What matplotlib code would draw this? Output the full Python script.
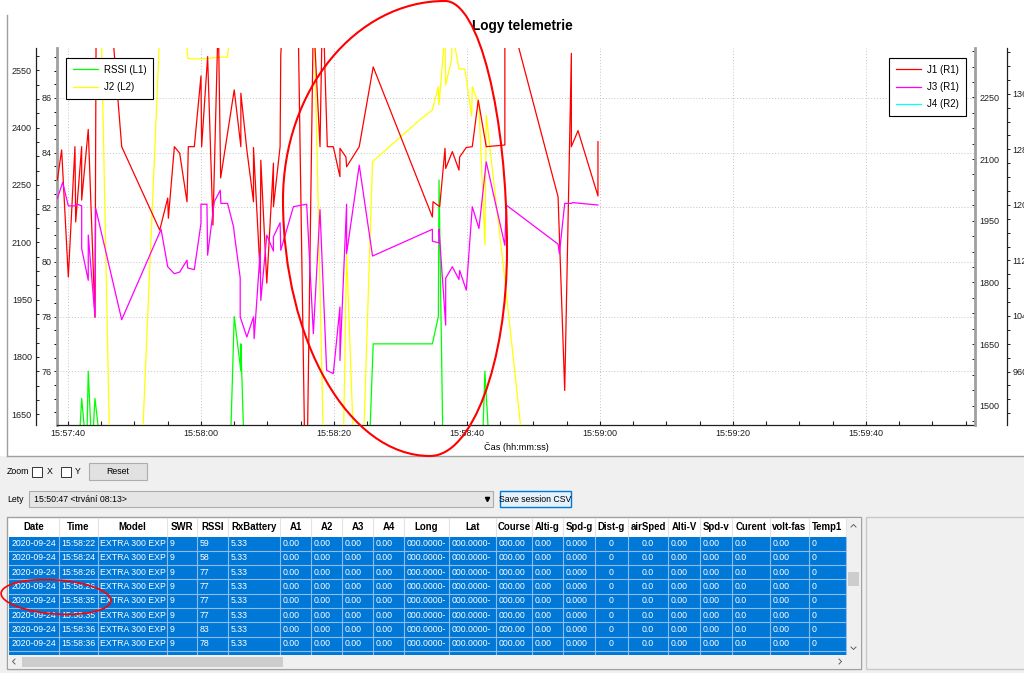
import matplotlib
matplotlib.use("Agg")
import matplotlib.pyplot as plt
from matplotlib.patches import Rectangle, Ellipse, PathPatch
from matplotlib.path import Path
from matplotlib.ticker import MultipleLocator, AutoMinorLocator, FuncFormatter

plt.rcParams['font.family'] = ['Liberation Sans', 'DejaVu Sans']

# time axis: seconds after 15:57:40
start_clock = 15 * 3600 + 57 * 60 + 40

# RSSI (L1)
rssi_time = [-2.0, 1.6, 2.06, 2.8, 3.05, 3.6, 4.06, 5.0, 24.4, 25.0,
             26.0, 26.0, 26.5, 45.3, 45.9, 54.8, 55.7, 55.8, 56.4, 62.3,
             62.7, 63.4, 80.0]
rssi_value = [73, 73, 75, 73, 76, 73, 75, 73, 73, 78,
              76, 77, 73, 73, 77, 77, 78, 83, 73, 73,
              76, 73, 73]

# J2 (L2)
j2_time = [-2.0, 5.0, 6.5, 11.0, 14.0, 17.5, 18.0, 19.0, 21.0, 22.9,
           24.0, 24.5, 37.0, 38.5, 41.4, 41.9, 43.0, 44.4, 45.8, 52.9,
           54.8, 55.7, 55.8, 56.7, 56.8, 57.7, 57.8, 58.8, 59.7, 60.7,
           60.8, 61.8, 62.7, 62.9, 65.7, 68.5, 80.0]
j2_value = [2700, 2670, 1360, 1500, 2731, 2700, 2581, 2579, 2581, 2584,
            2584, 2700, 2700, 1500, 1550, 2071, 1550, 1550, 2311, 2420,
            2446, 2507, 2459, 2650, 2511, 2579, 2650, 2553, 2553, 2430,
            2507, 2459, 2093, 2433, 2001, 1550, 1550]

# J1 (R1)
j1_time = [-1.6, -0.95, 0.05, 1.05, 1.16, 2.06, 2.06, 3.05, 4.06, 4.3,
           6.5, 8.08, 13.8, 15.0, 15.1, 16.0, 16.8, 17.9, 18.1, 19.0,
           20.0, 20.1, 21.0, 21.8, 22.6, 22.96, 25.0, 26.0, 26.0, 26.9,
           27.9, 27.9, 28.9, 29.0, 29.9, 30.9, 30.9, 31.9, 32.0, 32.5,
           34.6, 35.6, 36.0, 36.9, 37.9, 38.3, 39.0, 39.9, 40.9, 40.9,
           41.8, 41.9, 43.8, 45.9, 54.8, 54.9, 55.9, 56.7, 56.8, 57.8,
           58.8, 58.9, 59.9, 60.8, 61.7, 62.9, 65.7, 65.7, 66.5, 73.7,
           74.7, 75.7, 75.7, 76.7, 79.7, 79.7]
j1_value = [2049, 2122, 1813, 2130, 1947, 2130, 2000, 2172, 1715, 2700,
            2450, 2130, 1927, 2005, 1956, 2130, 2114, 1996, 2130, 2130,
            2302, 2130, 2349, 1939, 2450, 2054, 2268, 2130, 2260, 2122,
            1996, 2128, 1822, 2097, 1798, 2090, 1984, 2130, 2353, 2500,
            2450, 1400, 1400, 2450, 2130, 2500, 2130, 2130, 2057, 2126,
            2105, 2081, 2130, 2324, 1959, 1996, 1984, 2126, 2077, 2118,
            2073, 2105, 2128, 2130, 2243, 2130, 2134, 2500, 2450, 2008,
            1537, 2357, 2130, 2169, 2010, 2142]

# J3 (R1)
j3_time = [-1.6, -0.8, 0.05, 1.05, 1.4, 2.06, 2.06, 3.05, 3.05, 4.06,
           4.17, 8.08, 14.0, 15.0, 16.0, 16.8, 17.9, 18.0, 19.0, 20.0,
           20.0, 20.9, 21.0, 22.0, 22.9, 23.0, 24.0, 24.9, 25.0, 25.9,
           25.9, 26.9, 27.9, 28.0, 28.9, 29.0, 29.9, 30.9, 30.9, 31.9,
           32.0, 33.9, 35.9, 36.9, 37.9, 38.9, 39.9, 40.9, 40.9, 41.9,
           41.9, 43.8, 45.8, 54.8, 54.8, 55.8, 55.8, 56.8, 56.8, 57.8,
           58.8, 58.9, 59.9, 60.8, 61.8, 62.9, 65.7, 65.9, 73.7, 73.9,
           74.7, 75.7, 75.9, 79.7]
j3_value = [2004, 2043, 1986, 1986, 1990, 1986, 1882, 1805, 1915, 1716,
            1980, 1709, 1929, 1838, 1821, 1825, 1854, 1835, 1831, 1943,
            1990, 1990, 1866, 1996, 2024, 1992, 1992, 1935, 1920, 1811,
            1716, 1667, 1716, 1663, 1874, 1756, 1915, 1876, 1911, 1945,
            1878, 1984, 1990, 1675, 1977, 1586, 1578, 1740, 1610, 1990,
            1870, 2085, 1864, 1929, 1900, 1896, 1929, 1696, 1810, 1838,
            1807, 1829, 1781, 1984, 1931, 2093, 1890, 1988, 1893, 1870,
            1992, 1992, 1994, 1988]

# J4 (R2) - no visible data in range
j4_time = [-1.6, 79.7]
j4_value = [0, 0]

# table content
table_columns = ['Date', 'Time', 'Model', 'SWR', 'RSSI', 'RxBattery', 'A1', 'A2',
                 'A3', 'A4', 'Long', 'Lat', 'Course', 'Alti-g', 'Spd-g', 'Dist-g',
                 'airSped', 'Alti-V', 'Spd-v', 'Curent', 'volt-fas', 'Temp1']
row_time = ['15:58:22', '15:58:24', '15:58:26', '15:58:26', '15:58:35',
            '15:58:35', '15:58:36', '15:58:36', '15:58:37']
row_rssi = ['59', '58', '77', '77', '77', '77', '83', '78', '74']
row_date = '2020-09-24'
row_model = 'EXTRA 300 EXP'
row_swr = '9'
row_battery = '5.33'
sensor_cells = ['0.00', '0.00', '0.00', '0.00', '000.0000-', '000.0000-', '000.00',
                '0.00', '0.000', '0', '0.0', '0.00', '0.00', '0.0', '0.00', '0']

W, H = 1024, 673
fig = plt.figure(figsize=(W / 100, H / 100), dpi=100, facecolor='#f0f0f0')

# background "window" drawn in pixel coordinates
bg = fig.add_axes([0, 0, 1, 1], zorder=-1)
bg.set_xlim(0, W)
bg.set_ylim(H, 0)
bg.axis('off')

bg.add_patch(Rectangle((0, 0), W, 456, fc='white', ec='none'))
bg.plot([7, 7], [15, 456], color='#a0a0a0', lw=1)
bg.plot([7, W], [456, 456], color='#a0a0a0', lw=1)

ui_font = 6.3
bg.text(7, 472, 'Zoom', fontsize=ui_font, va='center')
bg.add_patch(Rectangle((32, 467), 10, 10, fc='white', ec='#333333', lw=0.7))
bg.text(46.5, 472, 'X', fontsize=ui_font, va='center')
bg.add_patch(Rectangle((61, 467), 10, 10, fc='white', ec='#333333', lw=0.7))
bg.text(74.5, 472, 'Y', fontsize=ui_font, va='center')
bg.add_patch(Rectangle((89, 462.5), 58, 17, fc='#e1e1e1', ec='#adadad', lw=0.8))
bg.text(118, 471, 'Reset', fontsize=ui_font, ha='center', va='center')

bg.text(7, 499, 'Lety', fontsize=ui_font, va='center')
bg.add_patch(Rectangle((29, 491), 464, 16, fc='#e5e5e5', ec='#adadad', lw=0.8))
bg.text(34, 499, '15:50:47 <trvání 08:13>', fontsize=ui_font, va='center')
bg.plot([487], [499], marker='v', ms=3, color='black')
bg.add_patch(Rectangle((500, 491), 71, 16, fc='#e5f1fb', ec='#0078d7', lw=1))
bg.text(535.5, 499, 'Save session CSV', fontsize=ui_font, ha='center', va='center')

# table widget
col_edges = [9, 59, 98, 167, 197, 228, 280, 311, 342, 373, 404, 449, 496,
             532, 563, 595, 628, 668, 700, 732, 770, 809, 846]
centered_cols = {'Dist-g', 'airSped'}
header_top, header_h, row_h = 518, 18.5, 14.33

bg.add_patch(Rectangle((7, 517), 854, 152, fc='white', ec='#a0a0a0', lw=1))
for j, name in enumerate(table_columns):
    cx = (col_edges[j] + col_edges[j + 1]) / 2
    bg.text(cx, header_top + header_h / 2, name, fontsize=6.9, fontweight='bold',
            ha='center', va='center')
    bg.plot([col_edges[j + 1]] * 2, [header_top, header_top + header_h],
            color='#e3e3e3', lw=0.8)

rows_top = header_top + header_h
for i, (tm, rs) in enumerate(zip(row_time, row_rssi)):
    cells = [row_date, tm, row_model, row_swr, rs, row_battery] + sensor_cells
    y0 = rows_top + i * row_h
    bg.add_patch(Rectangle((col_edges[0], y0), col_edges[-1] - col_edges[0], row_h,
                           fc='#0078d7', ec='none', zorder=1))
    for j, txt in enumerate(cells):
        if table_columns[j] in centered_cols:
            bg.text((col_edges[j] + col_edges[j + 1]) / 2, y0 + row_h / 2, txt,
                    fontsize=6.3, color='white', ha='center', va='center', zorder=2)
        else:
            bg.text(col_edges[j] + 2.5, y0 + row_h / 2, txt, fontsize=6.3,
                    color='white', ha='left', va='center', zorder=2)
    bg.plot([col_edges[0], col_edges[-1]], [y0 + row_h] * 2, color='#8fbdeb',
            lw=0.8, zorder=2)
for xe in col_edges[1:]:
    bg.plot([xe, xe], [rows_top, 655], color='#8fbdeb', lw=0.8, zorder=2)

# scrollbars
bg.add_patch(Rectangle((847, 518), 13.5, 150, fc='#f0f0f0', ec='none', zorder=3))
bg.add_patch(Rectangle((848, 572), 11, 14, fc='#cdcdcd', ec='none', zorder=3))
bg.plot([851, 853.5, 856], [527, 524.5, 527], color='#606060', lw=0.7, zorder=4)
bg.plot([851, 853.5, 856], [647, 649.5, 647], color='#606060', lw=0.7, zorder=4)
bg.add_patch(Rectangle((8, 655), 839, 13, fc='#f0f0f0', ec='none', zorder=3))
bg.add_patch(Rectangle((22, 657), 261, 10, fc='#cdcdcd', ec='none', zorder=3))
bg.plot([15, 12.5, 15], [659, 661.5, 664], color='#606060', lw=0.7, zorder=4)
bg.plot([839, 841.5, 839], [659, 661.5, 664], color='#606060', lw=0.7, zorder=4)

bg.add_patch(Rectangle((866, 517), 160, 152, fc='#f0f0f0', ec='#c8c8c8', lw=1))

# chart
ax = fig.add_axes([57 / W, 1 - 425 / H, (975 - 57) / W, (425 - 48) / H])
ax_l2 = ax.twinx()
ax_r1 = ax.twinx()
ax_r2 = ax.twinx()

ax.set_xlim(-1.65, 136.4)
ax.set_ylim(74.03, 87.83)
ax_l2.set_ylim(1622, 2608)
ax_r1.set_ylim(1453, 2370)
ax_r2.set_ylim(883, 1426)

ln_rssi, = ax.plot(rssi_time, rssi_value, color='#00ff00', lw=0.9)
ln_j2, = ax_l2.plot(j2_time, j2_value, color='#ffff00', lw=0.9)
ln_j1, = ax_r1.plot(j1_time, j1_value, color='#ff0000', lw=0.9)
ln_j3, = ax_r1.plot(j3_time, j3_value, color='#ff00ff', lw=0.9)
ln_j4, = ax_r2.plot(j4_time, j4_value, color='#00ffff', lw=0.9)


def clock(sec, pos):
    s = int(round(start_clock + sec))
    return f"{s // 3600:02d}:{s % 3600 // 60:02d}:{s % 60:02d}"


tick_font = 6.5
ax.xaxis.set_major_locator(MultipleLocator(20))
ax.xaxis.set_minor_locator(MultipleLocator(5))
ax.xaxis.set_major_formatter(FuncFormatter(clock))
ax.tick_params(axis='x', which='both', direction='in', length=3, width=0.8,
               pad=3, labelsize=tick_font, colors='#202020')
ax.set_xlabel('Čas (hh:mm:ss)', fontsize=6.6, labelpad=3)

ax.yaxis.set_major_locator(MultipleLocator(2))
ax.yaxis.set_minor_locator(MultipleLocator(0.5))
ax.tick_params(axis='y', which='major', direction='out', length=2.2, width=0.7,
               pad=1.5, labelsize=tick_font, colors='#202020')
ax.tick_params(axis='y', which='minor', direction='out', length=2.2, width=0.7)

ax_l2.yaxis.tick_left()
ax_l2.spines['left'].set_position(('outward', 15.1))
ax_l2.yaxis.set_major_locator(MultipleLocator(150))
ax_l2.yaxis.set_minor_locator(AutoMinorLocator(4))
ax_l2.tick_params(axis='y', which='both', direction='in', length=2.2, width=0.7,
                  pad=3, labelsize=tick_font, colors='#202020')

ax_r1.yaxis.set_major_locator(MultipleLocator(150))
ax_r1.yaxis.set_minor_locator(AutoMinorLocator(4))
ax_r1.tick_params(axis='y', which='both', direction='in', length=2.2, width=0.7,
                  pad=3, labelsize=tick_font, colors='#202020')

ax_r2.spines['right'].set_position(('outward', 23))
ax_r2.yaxis.set_major_locator(MultipleLocator(80))
ax_r2.yaxis.set_minor_locator(AutoMinorLocator(4))
ax_r2.tick_params(axis='y', which='both', direction='out', length=2.2, width=0.7,
                  pad=2, labelsize=tick_font, colors='#202020')

for a in (ax, ax_l2, ax_r1, ax_r2):
    for side in ('top', 'right', 'left', 'bottom'):
        a.spines[side].set_visible(False)
ax.spines['bottom'].set_visible(True)
ax.spines['bottom'].set_color('#202020')
ax.spines['bottom'].set_linewidth(0.9)
ax.spines['left'].set_visible(True)
ax.spines['left'].set_color('#a0a0a0')
ax.spines['left'].set_linewidth(2)
ax_r1.spines['right'].set_visible(True)
ax_r1.spines['right'].set_color('#a0a0a0')
ax_r1.spines['right'].set_linewidth(2)
ax_l2.spines['left'].set_visible(True)
ax_l2.spines['left'].set_color('#202020')
ax_l2.spines['left'].set_linewidth(0.9)
ax_r2.spines['right'].set_visible(True)
ax_r2.spines['right'].set_color('#202020')
ax_r2.spines['right'].set_linewidth(0.9)

ax.grid(True, which='major', color='#c4c4c4', lw=0.7, ls=(0, (1, 2)))

fig.text(522 / W, 1 - 26 / H, 'Logy telemetrie', ha='center', va='center',
         fontsize=9.8, fontweight='bold')

legend_style = dict(fontsize=7, frameon=True, fancybox=False, edgecolor='black',
                    framealpha=1, handlelength=2.6, handletextpad=0.6,
                    labelspacing=0.75, borderpad=0.7, borderaxespad=0,
                    bbox_transform=fig.transFigure)
leg_left = ax_r2.legend([ln_rssi, ln_j2], ['RSSI (L1)', 'J2 (L2)'], loc='upper left',
                        bbox_to_anchor=(66 / W, 1 - 58 / H), **legend_style)
leg_left.get_frame().set_linewidth(0.8)
ax_r2.add_artist(leg_left)
leg_right = ax_r2.legend([ln_j1, ln_j3, ln_j4], ['J1 (R1)', 'J3 (R1)', 'J4 (R2)'],
                         loc='upper right', bbox_to_anchor=(966 / W, 1 - 58 / H),
                         **legend_style)
leg_right.get_frame().set_linewidth(0.8)

# hand-drawn red marks on top
ov = fig.add_axes([0, 0, 1, 1], zorder=10)
ov.set_xlim(0, W)
ov.set_ylim(H, 0)
ov.axis('off')
oval = Path([(445, 1), (356, 1), (283, 90), (283, 200),
             (283, 341), (349, 456), (430, 456),
             (472, 456), (507, 363), (507, 250),
             (507, 113), (479, 1), (445, 1)],
            [Path.MOVETO] + [Path.CURVE4] * 12)
ov.add_patch(PathPatch(oval, fill=False, ec='#ff0000', lw=1.5))
ov.add_patch(Ellipse((56, 597), 110, 34, angle=4, fill=False, ec='#ff0000', lw=1.2))

fig.savefig('out.png', dpi=100, facecolor=fig.get_facecolor())
